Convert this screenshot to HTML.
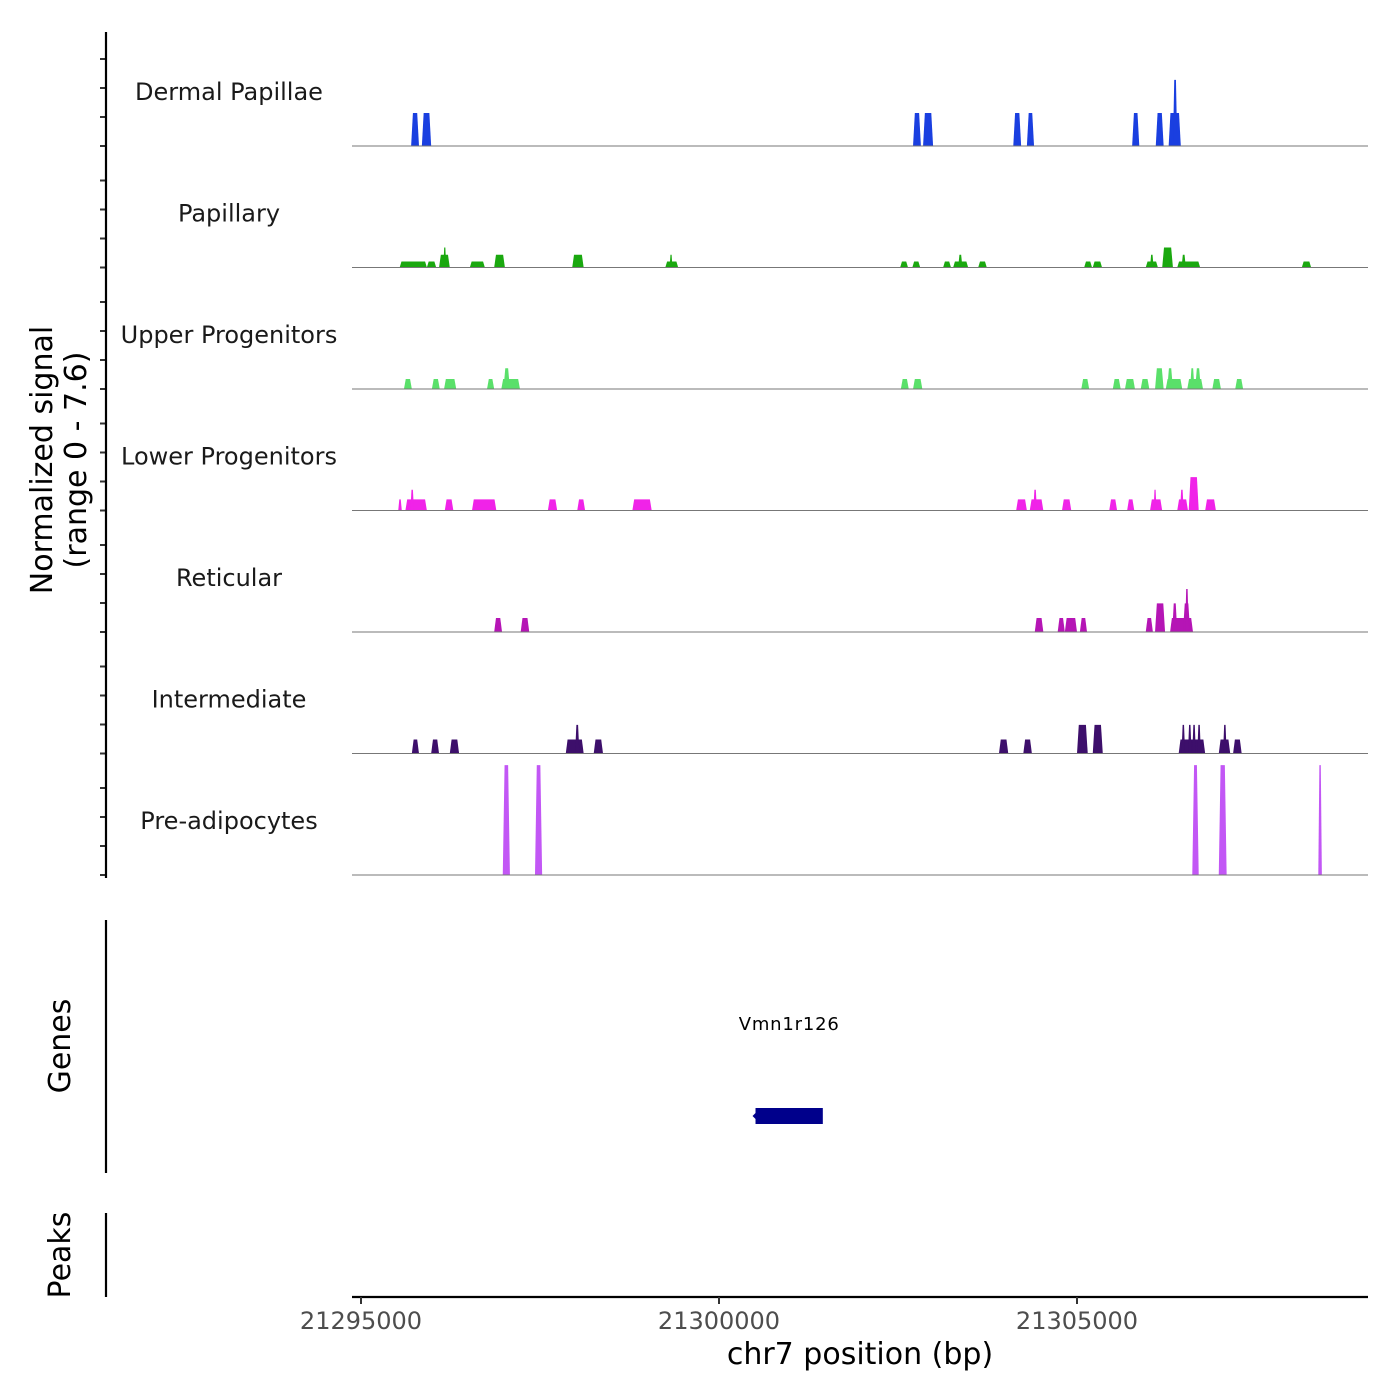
<!DOCTYPE html>
<html><head><meta charset="utf-8">
<style>
html,body{margin:0;padding:0;background:#fff;}
svg{display:block;font-family:"DejaVu Sans","Liberation Sans",sans-serif;}
</style></head>
<body>
<svg id="chart" width="1400" height="1400" viewBox="0 0 1400 1400" xmlns="http://www.w3.org/2000/svg">
  <g id="tracks"></g>
  <g id="axes"></g>
</svg>
<script>
const trackNames = ["Dermal Papillae","Papillary","Upper Progenitors","Lower Progenitors","Reticular","Intermediate","Pre-adipocytes"];
const trackColors = ["#1a3fe0","#1aa80f","#5ae06a","#f023e8","#b515b5","#3d0f6b","#c257f5"];
const xTicks = [21295000,21300000,21305000];
const yMax = 7.6;
// each peak: [start bp, end bp, signal]
const dermalPapillae = [[21295700,21295810,2.07],[21295850,21295980,2.07],[21302710,21302820,2.07],[21302850,21302990,2.07],[21304110,21304220,2.07],[21304300,21304400,2.07],[21305770,21305870,2.07],[21306100,21306210,2.07],[21306280,21306450,2.07],[21306340,21306400,4.15]];
const papillary = [[21295540,21295920,0.38],[21295920,21296050,0.38],[21296090,21296240,0.8],[21296150,21296190,1.26],[21296520,21296730,0.38],[21296860,21297010,0.8],[21297950,21298110,0.8],[21299250,21299430,0.38],[21299310,21299350,0.8],[21302530,21302640,0.38],[21302700,21302810,0.38],[21303130,21303240,0.38],[21303270,21303480,0.38],[21303340,21303400,0.8],[21303620,21303740,0.38],[21305100,21305210,0.38],[21305220,21305350,0.38],[21305960,21306130,0.38],[21306020,21306070,0.8],[21306190,21306340,1.26],[21306400,21306720,0.38],[21306460,21306520,0.8],[21308140,21308270,0.38]];
const upperProgenitors = [[21295600,21295710,0.63],[21295990,21296100,0.63],[21296160,21296330,0.63],[21296760,21296860,0.63],[21296960,21297220,0.63],[21296990,21297080,1.3],[21302540,21302650,0.63],[21302710,21302840,0.63],[21305060,21305170,0.63],[21305500,21305610,0.63],[21305670,21305810,0.63],[21305890,21306010,0.63],[21306090,21306210,1.3],[21306240,21306470,0.63],[21306260,21306340,1.3],[21306540,21306760,0.63],[21306580,21306640,1.3],[21306650,21306730,1.3],[21306890,21307010,0.63],[21307210,21307320,0.63]];
const lowerProgenitors = [[21295520,21295570,0.7],[21295620,21295920,0.7],[21295690,21295740,1.3],[21296170,21296290,0.7],[21296550,21296890,0.7],[21297610,21297740,0.7],[21298020,21298130,0.7],[21298790,21299060,0.7],[21304150,21304300,0.7],[21304340,21304530,0.7],[21304390,21304440,1.3],[21304790,21304920,0.7],[21305450,21305560,0.7],[21305700,21305800,0.7],[21306020,21306190,0.7],[21306070,21306110,1.3],[21306400,21306550,0.7],[21306440,21306490,1.3],[21306560,21306700,2.1],[21306790,21306940,0.7]];
const reticular = [[21296860,21296970,0.88],[21297230,21297350,0.88],[21304410,21304530,0.88],[21304730,21304830,0.88],[21304830,21305000,0.88],[21305040,21305140,0.88],[21305960,21306060,0.88],[21306090,21306230,1.8],[21306300,21306620,0.88],[21306330,21306400,1.8],[21306480,21306580,1.8],[21306510,21306560,2.7]];
const intermediate = [[21295710,21295810,0.88],[21295980,21296090,0.88],[21296240,21296370,0.88],[21297860,21298110,0.88],[21297990,21298050,1.8],[21298250,21298380,0.88],[21303910,21304040,0.88],[21304250,21304370,0.88],[21305000,21305150,1.8],[21305220,21305360,1.8],[21306420,21306790,0.88],[21306460,21306510,1.8],[21306550,21306600,1.8],[21306610,21306660,1.8],[21306680,21306730,1.8],[21306980,21307140,0.88],[21307040,21307090,1.8],[21307180,21307300,0.88]];
const preAdipocytes = [[21296980,21297080,6.9],[21297430,21297530,6.9],[21306610,21306700,6.9],[21306980,21307090,6.9],[21308370,21308420,6.9]];
const geneName = "Vmn1r126";
const geneStart = 21300510, geneEnd = 21301450;

const trackData = [dermalPapillae,papillary,upperProgenitors,lowerProgenitors,reticular,intermediate,preAdipocytes];
const NS = "http://www.w3.org/2000/svg";
const X0 = 352, X1 = 1368;
function xScale(bp){ return 361 + (bp - 21295000) * 0.0716; }
function baseY(i){ return 146 + i * 121.5; }
function yScale(i, v){ return baseY(i) - v * (121/ yMax); }
function mk(tag, attrs, parent){ const e=document.createElementNS(NS,tag); for(const k in attrs) e.setAttribute(k,attrs[k]); parent.appendChild(e); return e; }

const tracksG = document.getElementById('tracks');
const axesG = document.getElementById('axes');

trackData.forEach((peaks, i) => {
  const g = mk('g', {}, tracksG);
  
  
  const lbl = mk('text', {x:229, y:baseY(i)-46, 'text-anchor':'middle', 'font-size':24, fill:'#1a1a1a'}, g);
  lbl.textContent = trackNames[i];
  
  
  peaks.forEach(p => {
    const xa = xScale(p[0]), xb = xScale(p[1]);
    const w = xb - xa, inset = Math.min(1.8, w * 0.3);
    const yb = baseY(i), yt = yScale(i, p[2]);
    const poly = mk('polygon', {points:`${xa},${yb} ${xa+inset},${yt} ${xb-inset},${yt} ${xb},${yb}`, fill:trackColors[i]}, g);
    
    
  });
  const bl = mk('line', {x1:X0, x2:X1, y1:baseY(i), y2:baseY(i), stroke:'#777', 'stroke-width':1}, g);
  
  
  [0,29,58,87].forEach(off => {
    const t = mk('line', {x1:100, x2:106, y1:baseY(i)-off, y2:baseY(i)-off, stroke:'#333', 'stroke-width':2}, axesG);
    
    
  });
});

[[32,878,'signal-y-axis'],[920,1173,'genes-y-axis'],[1213,1297,'peaks-y-axis']].forEach(a => {
  const l = mk('line', {x1:106, x2:106, y1:a[0], y2:a[1], stroke:'#000', 'stroke-width':2.2}, axesG);
  
  
});

const yt1 = mk('text', {transform:'translate(52,460) rotate(-90)', 'text-anchor':'middle', 'font-size':30, fill:'#000'}, axesG);
yt1.textContent = 'Normalized signal';


const yt2 = mk('text', {transform:'translate(86,460) rotate(-90)', 'text-anchor':'middle', 'font-size':30, fill:'#000'}, axesG);
yt2.textContent = '(range 0 - 7.6)';


const gt = mk('text', {transform:'translate(70,1046) rotate(-90)', 'text-anchor':'middle', 'font-size':30, fill:'#000'}, axesG);
gt.textContent = 'Genes';


const pt = mk('text', {transform:'translate(70,1255) rotate(-90)', 'text-anchor':'middle', 'font-size':30, fill:'#000'}, axesG);
pt.textContent = 'Peaks';



const gx0 = xScale(geneStart), gx1 = xScale(geneEnd);
const gr = mk('rect', {x:gx0, y:1108, width:gx1-gx0, height:16, fill:'#00008b'}, axesG);


const ga = mk('polygon', {points:`${gx0-3},1116 ${gx0+1},1112 ${gx0+1},1120`, fill:'#00008b'}, axesG);


const gl = mk('text', {x:(gx0+gx1)/2, y:1030, 'text-anchor':'middle', 'font-size':18, fill:'#000', 'letter-spacing':'0.8'}, axesG);
gl.textContent = geneName;



const xa = mk('line', {x1:X0, x2:X1, y1:1297, y2:1297, stroke:'#000', 'stroke-width':2.2}, axesG);


xTicks.forEach(v => {
  const x = xScale(v);
  const t = mk('line', {x1:x, x2:x, y1:1297, y2:1304, stroke:'#333', 'stroke-width':2}, axesG);
  
  
  const tl = mk('text', {x:x, y:1329, 'text-anchor':'middle', 'font-size':24, fill:'#4d4d4d'}, axesG);
  tl.textContent = String(v);
  
  
});
const xt = mk('text', {x:860, y:1364, 'text-anchor':'middle', 'font-size':30, fill:'#000'}, axesG);
xt.textContent = 'chr7 position (bp)';


</script>
</body></html>
